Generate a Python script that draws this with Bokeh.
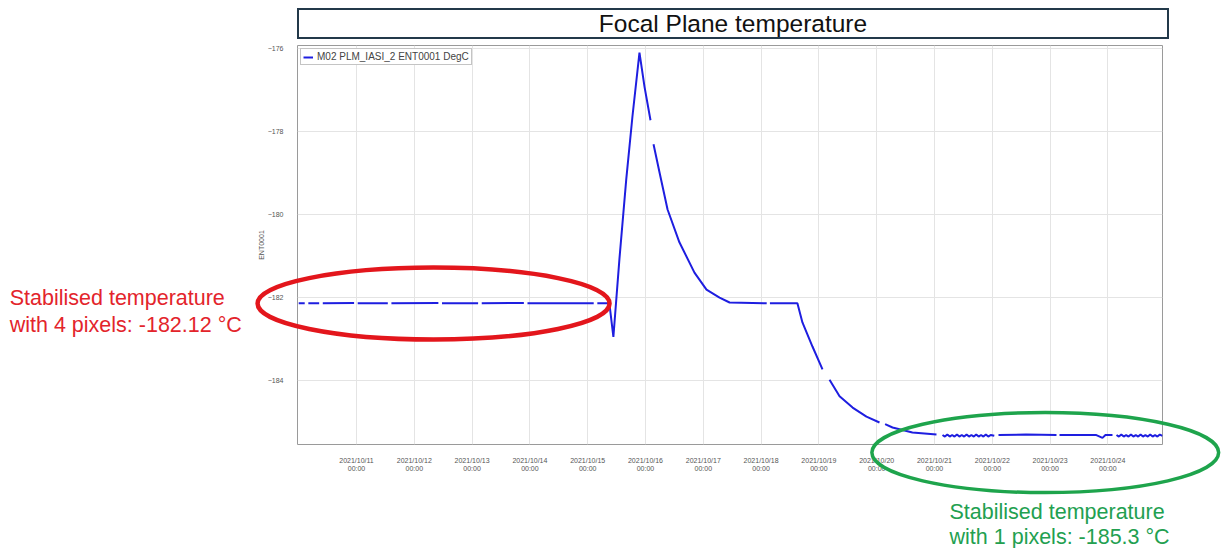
import numpy as np
import pandas as pd
from bokeh.plotting import figure
from bokeh.layouts import column
from bokeh.models import (Range1d, FixedTicker, DatetimeTickFormatter, Div, Legend, LegendItem,
                          ColumnDataSource, GridBox)
from bokeh.core.properties import value
from bokeh.embed import file_html
from bokeh.resources import INLINE

nan = float("nan")

# ---------------- data ----------------
TIME = [
    # stable before the event
    "2021-10-10 00:00", "2021-10-10 02:30", "2021-10-10 03:15", "2021-10-10 04:00", "2021-10-10 08:30",
    "2021-10-10 09:15", "2021-10-10 10:00", "2021-10-10 23:00", "2021-10-10 23:45", "2021-10-11 00:30",
    "2021-10-11 13:00", "2021-10-11 13:45", "2021-10-11 14:30", "2021-10-12 10:00", "2021-10-12 10:45",
    "2021-10-12 11:30", "2021-10-13 02:30", "2021-10-13 03:15", "2021-10-13 04:00", "2021-10-13 21:30",
    "2021-10-13 22:15", "2021-10-13 23:00", "2021-10-15 02:30", "2021-10-15 03:15", "2021-10-15 04:00",
    "2021-10-15 09:00",
    # dip and peak
    "2021-10-15 10:40", "2021-10-15 13:10", "2021-10-15 16:00", "2021-10-15 18:35", "2021-10-15 21:30",
    "2021-10-15 23:35", "2021-10-16 02:05", "2021-10-16 02:45",
    # first cool-down
    "2021-10-16 03:20", "2021-10-16 05:50", "2021-10-16 09:10", "2021-10-16 14:05", "2021-10-16 20:20",
    "2021-10-17 01:20", "2021-10-17 06:45", "2021-10-17 10:55", "2021-10-18 02:20", "2021-10-18 03:00",
    "2021-10-18 03:40", "2021-10-18 15:05",
    # second cool-down
    "2021-10-18 17:10", "2021-10-18 21:20", "2021-10-19 01:30", "2021-10-19 02:50", "2021-10-19 04:25",
    "2021-10-19 08:35", "2021-10-19 14:00", "2021-10-19 19:45", "2021-10-20 01:10", "2021-10-20 02:20",
    "2021-10-20 03:30", "2021-10-20 06:35", "2021-10-20 14:50", "2021-10-21 00:50", "2021-10-21 02:00",
    # stable at the end (noisy)
    "2021-10-21 03:20", "2021-10-21 04:20", "2021-10-21 05:20", "2021-10-21 06:20", "2021-10-21 07:20",
    "2021-10-21 08:20", "2021-10-21 09:20", "2021-10-21 10:20", "2021-10-21 11:20", "2021-10-21 12:20",
    "2021-10-21 13:20", "2021-10-21 14:20", "2021-10-21 15:20", "2021-10-21 16:20", "2021-10-21 17:20",
    "2021-10-21 18:20", "2021-10-21 19:20", "2021-10-21 20:20", "2021-10-21 21:20", "2021-10-21 22:20",
    "2021-10-21 23:20", "2021-10-22 00:50", "2021-10-22 01:45",
    "2021-10-22 02:35", "2021-10-22 14:00", "2021-10-23 02:40", "2021-10-23 03:15",
    "2021-10-23 03:55", "2021-10-23 19:00", "2021-10-23 21:45", "2021-10-23 23:00", "2021-10-24 01:55",
    "2021-10-24 02:45",
    "2021-10-24 03:35", "2021-10-24 04:35", "2021-10-24 05:35", "2021-10-24 06:35", "2021-10-24 07:35",
    "2021-10-24 08:35", "2021-10-24 09:35", "2021-10-24 10:35", "2021-10-24 11:35", "2021-10-24 12:35",
    "2021-10-24 13:35", "2021-10-24 14:35", "2021-10-24 15:35", "2021-10-24 16:35", "2021-10-24 17:35",
    "2021-10-24 18:35", "2021-10-24 19:35", "2021-10-24 20:35", "2021-10-24 21:35", "2021-10-24 22:40",
]
TEMP = [
    -182.14, -182.14, nan, -182.14, -182.14, nan, -182.14, -182.13, nan, -182.14,
    -182.14, nan, -182.14, -182.13, nan, -182.14, -182.14, nan, -182.14, -182.13,
    nan, -182.14, -182.14, nan, -182.14, -182.14,
    -182.95, -181.08, -179.16, -177.64, -176.10, -176.92, -177.73, nan,
    -178.31, -178.99, -179.88, -180.67, -181.40, -181.81, -182.00, -182.12, -182.14, nan,
    -182.14, -182.14,
    -182.60, -183.18, -183.73, nan, -183.98, -184.38, -184.65, -184.87, -185.01, nan,
    -185.05, -185.13, -185.25, -185.30, nan,
    -185.31, -185.35, -185.30, -185.35, -185.31, -185.35, -185.30, -185.35, -185.31, -185.35,
    -185.30, -185.35, -185.31, -185.35, -185.30, -185.35, -185.31, -185.35, -185.30, -185.35,
    -185.31, -185.33, nan,
    -185.31, -185.30, -185.31, nan,
    -185.31, -185.31, -185.38, -185.31, -185.31, nan,
    -185.31, -185.35, -185.30, -185.35, -185.31, -185.35, -185.30, -185.35, -185.31, -185.35,
    -185.30, -185.35, -185.31, -185.35, -185.30, -185.35, -185.31, -185.35, -185.30, -185.33,
]
SERIES_NAME = "M02 PLM_IASI_2 ENT0001 DegC"
X_TICK_DATES = ["2021-10-%02d" % d for d in range(11, 25)]
Y_TICKS = [-184, -182, -180, -178, -176]
TITLE = "Focal Plane temperature"
RED_TEXT = ["Stabilised temperature", "with 4 pixels: -182.12 °C"]
GREEN_TEXT = ["Stabilised temperature", "with 1 pixels: -185.3 °C"]

# ---------------- layout constants (page pixels) ----------------
W, H = 1222, 509          # canvas of the plot (below the title)
TOP = 40                  # page y where the plot canvas starts
FL, FR, FT, FB = 297, 1162, 46, 445   # frame edges on the page


def ms(s):
    return pd.Timestamp(s).value / 1e6


DAY = 86400000.0
X0, X1 = ms("2021-10-09 23:30"), ms("2021-10-24 22:41")
Y0, Y1 = -185.54, -175.93

src = ColumnDataSource(dict(t=pd.to_datetime(TIME), v=TEMP))

p = figure(width=W, height=H, x_axis_type="datetime",
           x_range=Range1d(X0, X1), y_range=Range1d(Y0, Y1),
           output_backend="svg", toolbar_location=None,
           min_border_left=FL, min_border_right=W - FR,
           min_border_top=FT - TOP, min_border_bottom=TOP + H - FB)
p.background_fill_color = "white"
p.border_fill_color = "white"
p.outline_line_color = "#9a9a9a"
p.outline_line_width = 1

r = p.line("t", "v", source=src, line_color="#1e1ee0", line_width=2)

p.xaxis.ticker = FixedTicker(ticks=[ms(d) for d in X_TICK_DATES])
fmt = "%Y/%m/%d\n%H:%M"
p.xaxis.formatter = DatetimeTickFormatter(microseconds=fmt, milliseconds=fmt, seconds=fmt, minsec=fmt,
                                          minutes=fmt, hourmin=fmt, hours=fmt, days=fmt, months=fmt,
                                          years=fmt)
p.yaxis.ticker = FixedTicker(ticks=Y_TICKS)
for ax in (p.xaxis, p.yaxis):
    ax.axis_line_color = None
    ax.major_tick_line_color = None
    ax.minor_tick_line_color = None
    ax.major_tick_out = 0
    ax.major_tick_in = 0
    ax.major_label_text_font_size = "7px"
    ax.major_label_text_color = "#555555"
    ax.major_label_text_font = "Liberation Sans"
p.xaxis.major_label_standoff = 12
p.yaxis.major_label_standoff = 14
p.yaxis.axis_label = "ENT0001"
p.yaxis.axis_label_text_font_size = "7px"
p.yaxis.axis_label_text_font_style = "normal"
p.yaxis.axis_label_text_color = "#555555"
p.yaxis.axis_label_text_font = "Liberation Sans"
p.yaxis.axis_label_standoff = 0

p.xgrid.grid_line_color = "#e4e4e4"
p.ygrid.grid_line_color = "#e4e4e4"

legend = Legend(items=[LegendItem(label=SERIES_NAME, renderers=[r])], location="top_left",
                label_text_font_size="10px", label_text_font="Liberation Sans",
                glyph_width=10, glyph_height=8, label_height=9, padding=2, margin=3, spacing=0,
                label_standoff=4, border_line_color="#8a8a8a", border_line_width=1,
                background_fill_alpha=1)
p.add_layout(legend)

# ---------------- transparent overlay for the call-outs (same data scale) ----------------
kx = (X1 - X0) / (FR - FL)
ky = (Y1 - Y0) / (FB - FT)
ov = figure(width=W, height=H,
            x_range=Range1d(X0 - FL * kx, X0 + (W - FL) * kx),
            y_range=Range1d(Y0 - (TOP + H - FB) * ky, Y1 + (FT - TOP) * ky),
            output_backend="svg", toolbar_location=None, min_border=0,
            x_axis_location=None, y_axis_location=None)
ov.background_fill_alpha = 0
ov.border_fill_alpha = 0
ov.outline_line_color = None
ov.grid.grid_line_color = None
for fig in (p, ov):
    if "frame_align" in fig.properties():
        fig.frame_align = False

ov.ellipse(x=[ms("2021-10-12 08:00")], y=[-182.145], width=[2 * 3.045 * DAY], height=[2 * 0.867],
           fill_alpha=0, line_color="#e3161c", line_width=4.5)
ov.ellipse(x=[ms("2021-10-22 22:00")], y=[-185.735], width=[2 * 3.0 * DAY], height=[2 * 0.964],
           fill_alpha=0, line_color="#1ea44c", line_width=3.5)

ov.text(x=[ms("2021-10-05 00:00")] * 2, y=[-182.0, -182.65], text=RED_TEXT,
        text_color="#e3242b", text_font=value("Liberation Sans"), text_font_size="21.5px",
        text_baseline="alphabetic")
ov.text(x=[ms("2021-10-21 06:15")] * 2, y=[-187.157, -187.759], text=GREEN_TEXT,
        text_color="#22a050", text_font=value("Liberation Sans"), text_font_size="21.5px",
        text_baseline="alphabetic")

grid = GridBox(children=[(p, 0, 0), (column(ov), 0, 0)])

title = Div(text='<div style="box-sizing:border-box;border:2px solid #23394a;width:872px;height:31px;'
                 'text-align:center;font-family:\'Liberation Sans\',Arial,sans-serif;font-size:24.5px;'
                 'line-height:28px;color:#111;">' + TITLE + '</div>',
            width=872, height=31, margin=(8, 0, 0, FL))

layout = column(title, grid, spacing=0)
open("out.html", "w").write(file_html(layout, INLINE))
